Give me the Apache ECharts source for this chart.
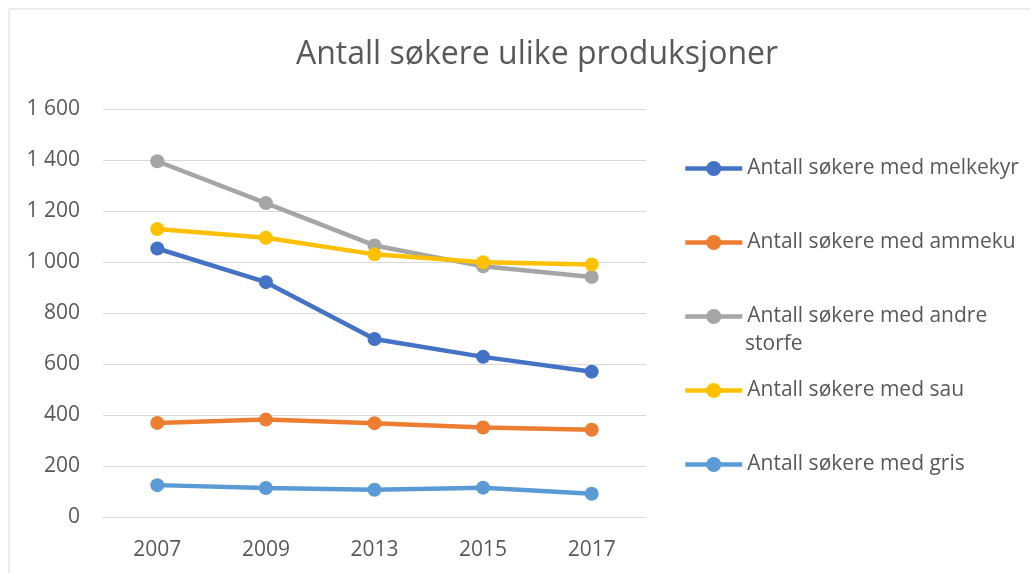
<!DOCTYPE html>
<html>
<head>
<meta charset="utf-8">
<script src="https://cdn.jsdelivr.net/npm/echarts@6/dist/echarts.min.js"></script>
<style>
  html, body { margin: 0; padding: 0; background: #fff; }
  #main { width: 1030px; height: 573px; }
</style>
</head>
<body>
<div id="main"></div>
<script>
// kategorier og verdier lest av figuren
var years = ['2007', '2009', '2013', '2015', '2017']
var melkekyr = [1053, 921, 698, 628, 570]
var ammeku = [369, 382, 368, 351, 342]
var andreStorfe = [1395, 1231, 1065, 983, 941]
var sau = [1129, 1095, 1030, 999, 990]
var gris = [125, 114, 107, 115, 91]

var names = [
  'Antall søkere med melkekyr',
  'Antall søkere med ammeku',
  'Antall søkere med andre storfe',
  'Antall søkere med sau',
  'Antall søkere med gris'
]
var colors = ['#4472C4', '#ED7D31', '#A5A5A5', '#FFC000', '#5B9BD5']
var values = [melkekyr, ammeku, andreStorfe, sau, gris]

var textColor = '#595959'
var font = 'Open Sans'

var myChart = echarts.init(document.getElementById('main'))

var series = names.map(function (n, i) {
  return {
    name: n,
    type: 'line',
    data: values[i],
    symbol: 'circle',
    symbolSize: 14,
    lineStyle: { width: 4.5, color: colors[i] },
    itemStyle: { color: colors[i] },
    animation: false
  }
})

var option = {
  backgroundColor: '#fff',
  title: {
    text: 'Antall søkere ulike produksjoner',
    left: 532,
    textAlign: 'center',
    top: 34,
    textStyle: { color: textColor, fontSize: 32, fontWeight: 'normal', fontFamily: font }
  },
  grid: { left: 103, right: 384, top: 109, bottom: 56 },
  legend: {
    orient: 'vertical',
    left: 683,
    top: 158,
    padding: 0,
    itemWidth: 57,
    itemHeight: 19,
    itemGap: 53,
    data: names,
    lineStyle: { width: 4.5 },
    formatter: function (n) {
      return n === 'Antall søkere med andre storfe' ? 'Antall søkere med andre' : n
    },
    textStyle: { color: textColor, fontSize: 21, fontFamily: font }
  },
  graphic: [
    {
      type: 'rect',
      shape: { x: 9, y: 9, width: 1040, height: 600 },
      style: { fill: 'none', stroke: '#d9d9d9', lineWidth: 1 },
      silent: true
    },
    {
      type: 'text',
      left: 745,
      top: 334,
      style: { text: 'storfe', fill: textColor, fontSize: 21, fontFamily: font }
    }
  ],
  xAxis: {
    type: 'category',
    data: years,
    axisLine: { lineStyle: { color: '#d9d9d9', width: 1 } },
    axisTick: { show: false },
    axisLabel: { color: textColor, fontSize: 21, fontFamily: font, margin: 23 }
  },
  yAxis: {
    type: 'value',
    min: 0,
    max: 1600,
    interval: 200,
    axisLine: { show: false },
    axisTick: { show: false },
    splitLine: { lineStyle: { color: '#d9d9d9', width: 1 } },
    axisLabel: {
      color: textColor,
      fontSize: 21,
      fontFamily: font,
      margin: 23,
      formatter: function (v) {
        return v >= 1000 ? Math.floor(v / 1000) + ' ' + String(v % 1000).padStart(3, '0') : String(v)
      }
    }
  },
  series: series
}

myChart.setOption(option)
</script>
</body>
</html>
